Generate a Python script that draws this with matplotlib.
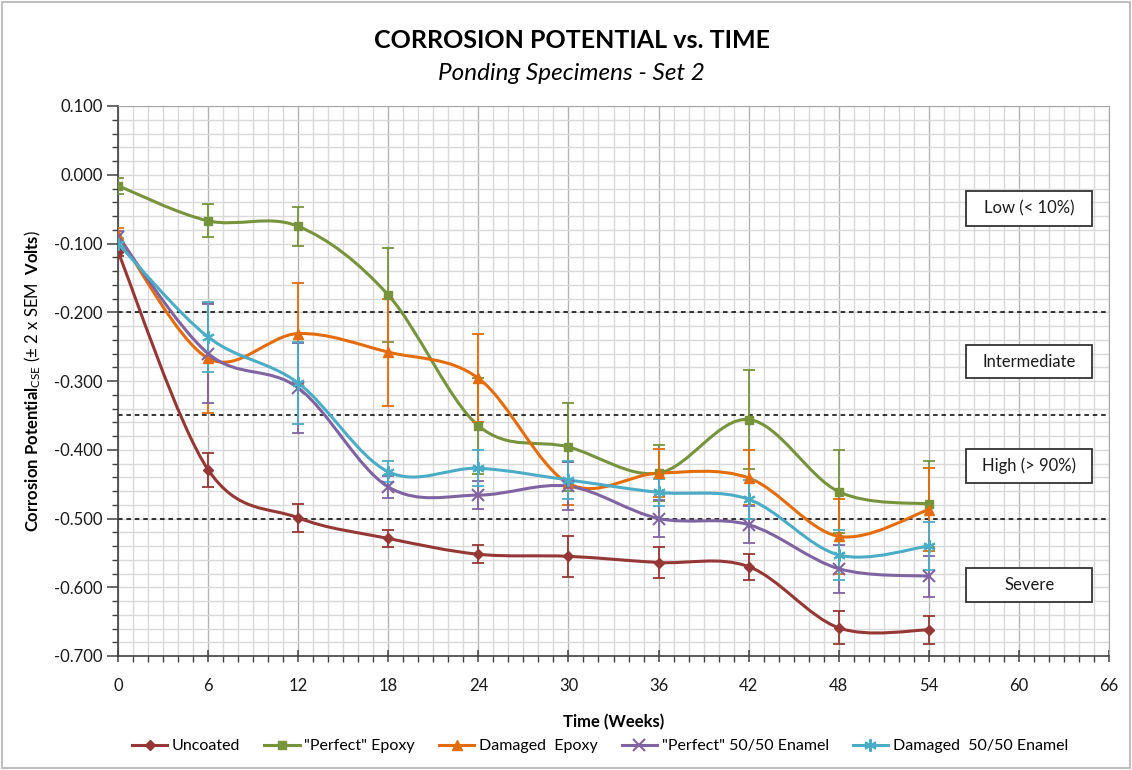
import matplotlib.pyplot as plt
import numpy as np
from matplotlib.path import Path
from matplotlib.patches import PathPatch, Rectangle
from matplotlib.lines import Line2D
from matplotlib.ticker import MultipleLocator, FormatStrFormatter

plt.rcParams['font.family'] = ['Lato', 'DejaVu Sans']
plt.rcParams['mathtext.fontset'] = 'custom'
plt.rcParams['mathtext.rm'] = 'Lato'
plt.rcParams['mathtext.bf'] = 'Lato:bold'
plt.rcParams['mathtext.it'] = 'Lato:italic'

weeks = [0, 6, 12, 18, 24, 30, 36, 42, 48, 54]

uncoated = [-0.112, -0.429, -0.499, -0.529, -0.552, -0.555, -0.564, -0.570, -0.659, -0.662]
uncoated_err = [0.006, 0.025, 0.020, 0.012, 0.013, 0.030, 0.022, 0.019, 0.024, 0.020]

perfect_epoxy = [-0.016, -0.067, -0.075, -0.175, -0.365, -0.396, -0.434, -0.356, -0.461, -0.479]
perfect_epoxy_err = [0.012, 0.024, 0.028, 0.068, 0.070, 0.064, 0.041, 0.072, 0.060, 0.063]

damaged_epoxy = [-0.088, -0.267, -0.231, -0.258, -0.296, -0.449, -0.434, -0.441, -0.526, -0.487]
damaged_epoxy_err = [0.010, 0.080, 0.074, 0.078, 0.064, 0.031, 0.035, 0.040, 0.055, 0.060]

perfect_enamel = [-0.090, -0.260, -0.310, -0.454, -0.466, -0.453, -0.500, -0.509, -0.573, -0.584]
perfect_enamel_err = [0.008, 0.072, 0.066, 0.016, 0.020, 0.035, 0.027, 0.027, 0.035, 0.030]

damaged_enamel = [-0.100, -0.236, -0.303, -0.432, -0.427, -0.444, -0.462, -0.472, -0.553, -0.540]
damaged_enamel_err = [0.008, 0.051, 0.060, 0.015, 0.026, 0.027, 0.020, 0.028, 0.036, 0.035]

series = [
    ('Uncoated', uncoated, uncoated_err, '#953735', 'D', 5),
    ('"Perfect" Epoxy', perfect_epoxy, perfect_epoxy_err, '#77933C', 's', 6),
    ('Damaged  Epoxy', damaged_epoxy, damaged_epoxy_err, '#E46C0A', '^', 7),
    ('"Perfect" 50/50 Enamel', perfect_enamel, perfect_enamel_err, '#8064A2', 'x', 8),
    ('Damaged  50/50 Enamel', damaged_enamel, damaged_enamel_err, '#4BACC6', (6, 2, 0), 9),
]

thresholds = [-0.200, -0.350, -0.500]
# label, box top, box bottom (volts)
zones = [
    ('Low (< 10%)', -0.024, -0.075),
    ('Intermediate', -0.248, -0.296),
    ('High (> 90%)', -0.399, -0.448),
    ('Severe', -0.572, -0.622),
]
zone_x0, zone_x1 = 56.5, 64.9


def smooth_path(x, y):
    # Catmull-Rom style bezier segments, like spreadsheet "smoothed line"
    pts = np.column_stack([x, y]).astype(float)
    verts = [pts[0]]
    codes = [Path.MOVETO]
    n = len(pts)
    for i in range(n - 1):
        p0 = pts[max(i - 1, 0)]
        p1 = pts[i]
        p2 = pts[i + 1]
        p3 = pts[min(i + 2, n - 1)]
        c1 = p1 + (p2 - p0) / 6
        c2 = p2 - (p3 - p1) / 6
        verts += [c1, c2, p2]
        codes += [Path.CURVE4] * 3
    return Path(verts, codes)


fig = plt.figure(figsize=(11.32, 7.70), dpi=100)
ax = fig.add_axes([118 / 1132, 1 - 656 / 770, (1109 - 118) / 1132, (656 - 106) / 770])

ax.set_xlim(0, 66)
ax.set_ylim(-0.7, 0.1)
ax.xaxis.set_major_locator(MultipleLocator(6))
ax.xaxis.set_minor_locator(MultipleLocator(1))
ax.yaxis.set_major_locator(MultipleLocator(0.1))
ax.yaxis.set_minor_locator(MultipleLocator(0.02))
ax.yaxis.set_major_formatter(FormatStrFormatter('%.3f'))

ax.grid(which='minor', axis='both', color='#d9d9d9', lw=1.0)
ax.grid(which='major', axis='x', color='#b3b3b3', lw=1.0)
ax.grid(which='major', axis='y', color='#d9d9d9', lw=1.0)
ax.set_axisbelow(True)

for side in ['top', 'right']:
    ax.spines[side].set_color('#a6a6a6')
for side in ['left', 'bottom']:
    ax.spines[side].set_color('#404040')
    ax.spines[side].set_linewidth(1.2)

ax.tick_params(which='major', direction='inout', length=8, width=1.1, color='#404040',
               labelsize=12, labelcolor='#1a1a1a')
ax.tick_params(which='minor', direction='out', length=4, width=1.0, color='#404040')
ax.tick_params(axis='x', which='major', pad=12)
ax.tick_params(axis='y', which='major', direction='out', length=8, pad=3)
ax.tick_params(axis='y', which='minor', length=4)

for th in thresholds:
    ax.axhline(th, color='black', lw=1.1, ls=(0, (3, 2.5)), zorder=2)

handles = []
for name, vals, err, color, marker, ms in series:
    patch = PathPatch(smooth_path(weeks, vals), fill=False, edgecolor=color, lw=2.2,
                      capstyle='round', joinstyle='round', zorder=3)
    ax.add_patch(patch)
    mew = 1.5 if marker in ('x',) or isinstance(marker, tuple) else 1.0
    ax.errorbar(weeks, vals, yerr=err, fmt='none', ecolor=color, elinewidth=1.3,
                capsize=4, capthick=1.3, zorder=3)
    ax.plot(weeks, vals, ls='none', marker=marker, ms=ms, color=color, mec=color,
            mew=mew, zorder=4)
    handles.append(Line2D([], [], color=color, lw=2.2, marker=marker, ms=ms, mew=mew,
                          label=name))

for label, top, bottom in zones:
    ax.add_patch(Rectangle((zone_x0, bottom), zone_x1 - zone_x0, top - bottom,
                           fc='white', ec='#333333', lw=1.3, zorder=6))
    ax.text((zone_x0 + zone_x1) / 2, (top + bottom) / 2, label, ha='center', va='center',
            fontsize=12, color='#1a1a1a', zorder=7)

fig.text(0.505, 1 - 40 / 770, 'CORROSION POTENTIAL vs. TIME', ha='center', va='center',
         fontsize=18, fontweight='bold', color='black')
fig.text(0.505, 1 - 73 / 770, 'Ponding Specimens - Set 2', ha='center', va='center',
         fontsize=17.5, style='italic', color='black')

ax.set_xlabel('Time (Weeks)', fontsize=12, fontweight='bold', labelpad=14)
ax.set_ylabel(r'$\mathbf{Corrosion\ Potential}_{\mathrm{CSE}}$ (± 2 x SEM  $\mathbf{Volts}$)',
              fontsize=12, labelpad=8)

fig.legend(handles=handles, loc='center', bbox_to_anchor=(0.530, 1 - 746 / 770), ncol=5,
           frameon=False, fontsize=11.5, handlelength=2.2, columnspacing=1.5,
           handletextpad=0.3)

fig.patches.append(Rectangle((0.002, 0.002), 0.996, 0.996, transform=fig.transFigure,
                             fill=False, ec='#bfbfbf', lw=1.5))

fig.savefig('out.png', dpi=100)
